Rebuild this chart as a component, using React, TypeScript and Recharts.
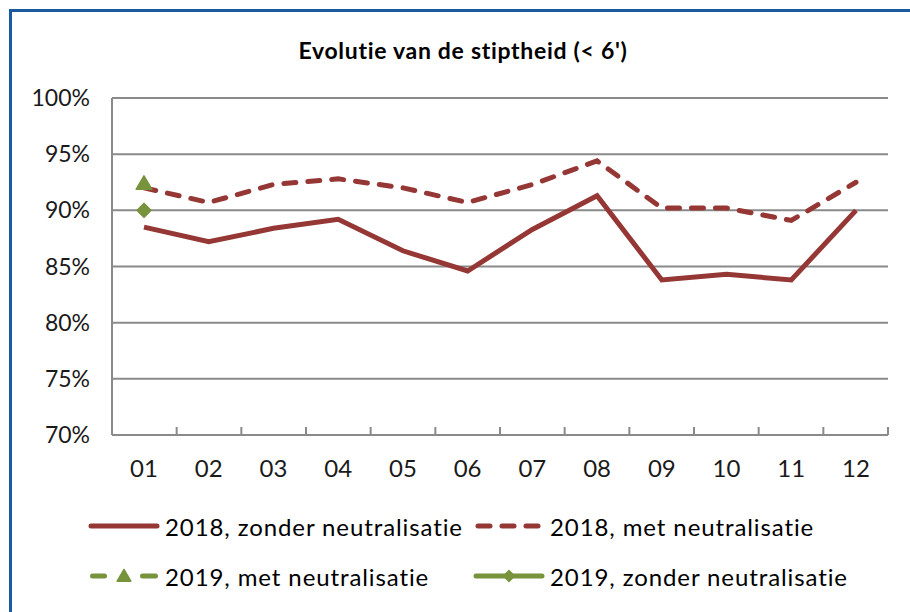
import { LineChart, Line, XAxis, YAxis, CartesianGrid, Legend } from 'recharts'

const months = ['01', '02', '03', '04', '05', '06', '07', '08', '09', '10', '11', '12']
const zonder2018 = [88.5, 87.2, 88.4, 89.2, 86.4, 84.6, 88.3, 91.3, 83.8, 84.3, 83.8, 90.0]
const met2018 = [92.0, 90.7, 92.3, 92.8, 92.0, 90.7, 92.3, 94.4, 90.2, 90.2, 89.1, 92.5]
const met2019 = [92.4]
const zonder2019 = [90.0]
const yTicks = [70, 75, 80, 85, 90, 95, 100]
const edgeTicks = [0, 1, 2, 3, 4, 5, 6, 7, 8, 9, 10, 11, 12]
const legendLabels = [
  '2018, zonder neutralisatie',
  '2018, met neutralisatie',
  '2019, met neutralisatie',
  '2019, zonder neutralisatie',
]

const RED = '#953735'
const GREEN = '#77933C'
const GRID = '#8a8a8a'
const FONT = 'Lato, "Open Sans", sans-serif'

const data = months.map((m, i) => ({
  month: m,
  slot: i + 0.5,
  zonder2018: zonder2018[i],
  met2018: met2018[i],
  met2019: met2019[i] ?? null,
  zonder2019: zonder2019[i] ?? null,
}))

function triangle(cx: number, cy: number, s: number) {
  return `M${cx},${cy - s} L${cx + s * 1.05},${cy + s * 0.8} L${cx - s * 1.05},${cy + s * 0.8} Z`
}

function diamond(cx: number, cy: number, s: number) {
  return `M${cx},${cy - s} L${cx + s},${cy} L${cx},${cy + s} L${cx - s},${cy} Z`
}

const TriangleDot = (p: any) => {
  if (p.value == null || p.cy == null) return <g key={p.index} />
  return <path key={p.index} d={triangle(p.cx, p.cy, 7.5)} fill={GREEN} stroke={GREEN} strokeWidth={1.5} strokeLinejoin="round" />
}

const DiamondDot = (p: any) => {
  if (p.value == null || p.cy == null) return <g key={p.index} />
  return <path key={p.index} d={diamond(p.cx, p.cy, 7.5)} fill={GREEN} stroke={GREEN} strokeWidth={1} />
}

function LegendIcon({ kind }: { kind: number }) {
  return (
    <svg width={72} height={20} style={{ display: 'block', marginRight: 5 }}>
      {kind === 0 && <line x1={3} y1={10} x2={69} y2={10} stroke={RED} strokeWidth={5} strokeLinecap="round" />}
      {kind === 1 && (
        <line x1={5} y1={10} x2={67} y2={10} stroke={RED} strokeWidth={5} strokeLinecap="round" strokeDasharray="12 12" />
      )}
      {kind === 2 && (
        <g>
          <line x1={4.5} y1={10} x2={16.5} y2={10} stroke={GREEN} strokeWidth={5} strokeLinecap="round" />
          <line x1={54.5} y1={10} x2={67.5} y2={10} stroke={GREEN} strokeWidth={5} strokeLinecap="round" />
          <path d={triangle(36, 10, 6.5)} fill={GREEN} stroke={GREEN} strokeWidth={1.5} strokeLinejoin="round" />
        </g>
      )}
      {kind === 3 && (
        <g>
          <line x1={3} y1={10} x2={69} y2={10} stroke={GREEN} strokeWidth={5} strokeLinecap="round" />
          <path d={diamond(36, 10, 6.5)} fill={GREEN} />
        </g>
      )}
    </svg>
  )
}

function ChartLegend() {
  return (
    <div
      style={{
        height: 108,
        paddingTop: 6,
        boxSizing: 'border-box',
        paddingLeft: 88,
        display: 'grid',
        gridTemplateColumns: '385px auto',
        gridAutoRows: '50px',
        fontFamily: FONT,
        fontSize: 24,
        letterSpacing: 0.9,
        color: '#000',
      }}
    >
      {legendLabels.map((label, i) => (
        <div key={label} style={{ display: 'flex', alignItems: 'center' }}>
          <LegendIcon kind={i} />
          <span>{label}</span>
        </div>
      ))}
    </div>
  )
}

export default function App() {
  return (
    <div style={{ position: 'absolute', top: 0, left: 0, width: 910, height: 612, background: '#fff', overflow: 'hidden' }}>
      <div
        style={{
          position: 'absolute',
          top: 9,
          left: 9,
          width: 910,
          height: 620,
          borderTop: '3px solid #1c5aa0',
          borderLeft: '3px solid #1c5aa0',
        }}
      />
      <div
        style={{
          position: 'absolute',
          top: 35,
          left: 0,
          width: 926,
          textAlign: 'center',
          fontFamily: FONT,
          fontWeight: 700,
          fontSize: 23,
          letterSpacing: 0.7,
          lineHeight: '30px',
          color: '#000',
        }}
      >
        Evolutie van de stiptheid (&lt; 6')
      </div>
      <LineChart
        width={910}
        height={612}
        data={data}
        margin={{ top: 98, right: 22, left: 12, bottom: 9 }}
        style={{ position: 'absolute', top: 0, left: 0 }}
      >
        <CartesianGrid vertical={false} stroke={GRID} strokeWidth={2} />
        <XAxis
          dataKey="month"
          padding={{ left: 32, right: 32 }}
          tickLine={false}
          tickSize={0}
          tickMargin={25}
          height={60}
          axisLine={{ stroke: GRID, strokeWidth: 2 }}
          tick={{ fontSize: 24, fill: '#1a1a1a', fontFamily: FONT }}
        />
        <XAxis
          xAxisId="edge"
          dataKey="slot"
          type="number"
          domain={[0, 12]}
          allowDataOverflow
          ticks={edgeTicks}
          interval={0}
          mirror
          height={8}
          tickSize={8}
          axisLine={false}
          tickLine={{ stroke: GRID, strokeWidth: 2 }}
          tickFormatter={() => ''}
        />
        <YAxis
          domain={[70, 100]}
          ticks={yTicks}
          width={100}
          tickLine={false}
          tickSize={0}
          tickMargin={22}
          axisLine={{ stroke: GRID, strokeWidth: 2 }}
          tickFormatter={(v) => `${v}%`}
          tick={{ fontSize: 23, fill: '#1a1a1a', fontFamily: FONT }}
        />
        <Legend verticalAlign="bottom" wrapperStyle={{ left: 0, width: 910 }} content={<ChartLegend />} />
        <Line dataKey="zonder2018" stroke={RED} strokeWidth={5} dot={false} isAnimationActive={false} />
        <Line
          dataKey="met2018"
          stroke={RED}
          strokeWidth={5}
          strokeDasharray="12 12"
          strokeLinecap="round"
          dot={false}
          isAnimationActive={false}
        />
        <Line dataKey="met2019" stroke={GREEN} strokeWidth={5} dot={TriangleDot} isAnimationActive={false} />
        <Line dataKey="zonder2019" stroke={GREEN} strokeWidth={5} dot={DiamondDot} isAnimationActive={false} />
      </LineChart>
    </div>
  )
}
